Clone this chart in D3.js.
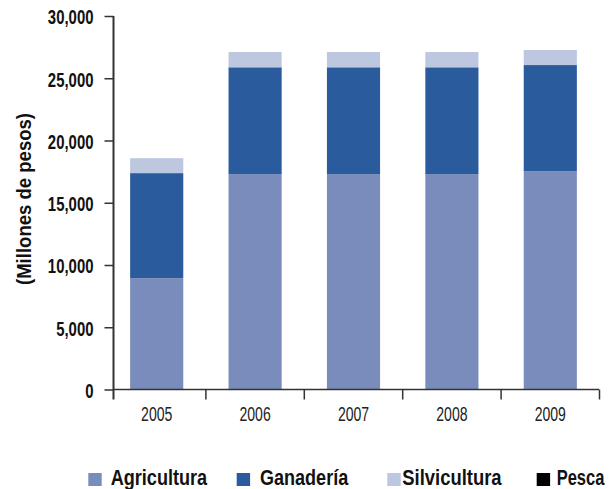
<!DOCTYPE html>
<html><head><meta charset="utf-8">
<script src="https://cdn.jsdelivr.net/npm/d3@7"></script>
<style>
html,body{margin:0;padding:0;background:#fff;}
svg{display:block;}
</style></head>
<body>
<svg id="c" width="611" height="489"></svg>
<script>
const years = ["2005","2006","2007","2008","2009"];
const agricultura  = [8940, 17300, 17300, 17300, 17540];
const ganaderia    = [8440, 8580, 8580, 8580, 8520];
const silvicultura = [1200, 1230, 1230, 1230, 1210];
const pesca        = [0, 0, 0, 0, 0];
const seriesNames  = ["Agricultura","Ganadería","Silvicultura","Pesca"];
const seriesColors = ["#7a8cbb","#2a5b9c","#bec7e0","#000000"];
const yTicks = [0,5000,10000,15000,20000,25000,30000];

const FONT = "'Liberation Sans',Arial,sans-serif";
function condense(sel, k){
  sel.each(function(d,i){
    const n = this.getComputedTextLength();
    const kk = typeof k === "function" ? k(d,i) : k;
    d3.select(this).attr("textLength", n*kk).attr("lengthAdjust","spacingAndGlyphs");
  });
}
const rows = years.map((y,i)=>({year:y, Agricultura:agricultura[i], "Ganadería":ganaderia[i], Silvicultura:silvicultura[i], Pesca:pesca[i]}));
const stacked = d3.stack().keys(seriesNames)(rows);

const svg = d3.select("#c");
const axisX = 113.5, baseY = 389.5, topY = 16, rightX = 599;
const x = d3.scaleBand().domain(years).range([107.5, 599.5]).paddingInner(0.46).paddingOuter(0.23);
const y = d3.scaleLinear().domain([0,30000]).range([baseY, topY]);

// bars
svg.append("g").selectAll("g").data(stacked).join("g")
  .attr("fill",(d,i)=>seriesColors[i])
  .selectAll("rect").data(d=>d).join("rect")
  .attr("x",d=>x(d.data.year))
  .attr("width",x.bandwidth())
  .attr("y",d=>y(d[1]))
  .attr("height",d=>Math.max(0,y(d[0])-y(d[1])));

// y axis
const yAxis = d3.axisLeft(y).tickValues(yTicks).tickSize(9).tickPadding(11)
  .tickFormat(d3.format(","));
const gy = svg.append("g").attr("transform",`translate(${axisX},0)`).call(yAxis);
gy.select(".domain").remove();
gy.selectAll(".tick line").attr("stroke","#333").attr("stroke-width",1.5);
gy.selectAll(".tick text").attr("font-family",FONT).attr("font-weight","bold")
  .attr("font-size",19.5).attr("fill","#111").attr("dy","0.4em");
condense(gy.selectAll(".tick text"), 0.765);
svg.append("line").attr("x1",axisX).attr("x2",axisX).attr("y1",topY).attr("y2",baseY+10)
  .attr("stroke","#333").attr("stroke-width",2);

// x axis
svg.append("line").attr("x1",axisX).attr("x2",rightX).attr("y1",baseY).attr("y2",baseY)
  .attr("stroke","#333").attr("stroke-width",1.5);
const step = x.step();
const bounds = years.map(yr=>x(yr)-x.paddingInner()*step/2+step);
svg.append("g").selectAll("line").data(bounds).join("line")
  .attr("x1",d=>d).attr("x2",d=>d).attr("y1",baseY).attr("y2",baseY+10)
  .attr("stroke","#333").attr("stroke-width",1.5);
const yl = svg.append("g").selectAll("text").data(years).join("text")
  .attr("x",d=>x(d)+x.bandwidth()/2).attr("y",420.5)
  .attr("text-anchor","middle").attr("font-family",FONT).attr("font-size",19.5)
  .attr("fill","#222").text(d=>d);
condense(yl, 0.72);

// y title
const yt = svg.append("text").attr("transform","translate(24,199) rotate(-90)")
  .attr("text-anchor","middle").attr("dy","0.35em")
  .attr("font-family",FONT).attr("font-weight","bold").attr("font-size",20)
  .attr("fill","#111").text("(Millones de pesos)");
yt.attr("textLength",172).attr("lengthAdjust","spacingAndGlyphs");

// legend
const legX = [88.3, 236.7, 387.3, 536.7];
const legGap = [22.4, 23.3, 15, 20];
const legK = [0.823, 0.82, 0.838, 0.75];
const lg = svg.append("g").selectAll("g").data(seriesNames).join("g")
  .attr("transform",(d,i)=>`translate(${legX[i]},0)`);
lg.append("rect").attr("x",0).attr("y",473).attr("width",13.4).attr("height",13)
  .attr("fill",(d,i)=>seriesColors[i]);
lg.append("text")
  .attr("transform",(d,i)=>`translate(${legGap[i]},485) scale(${legK[i]},1)`)
  .attr("font-family",FONT).attr("font-weight","bold").attr("font-size",22)
  .attr("fill","#111").text(d=>d);
</script>
</body></html>
